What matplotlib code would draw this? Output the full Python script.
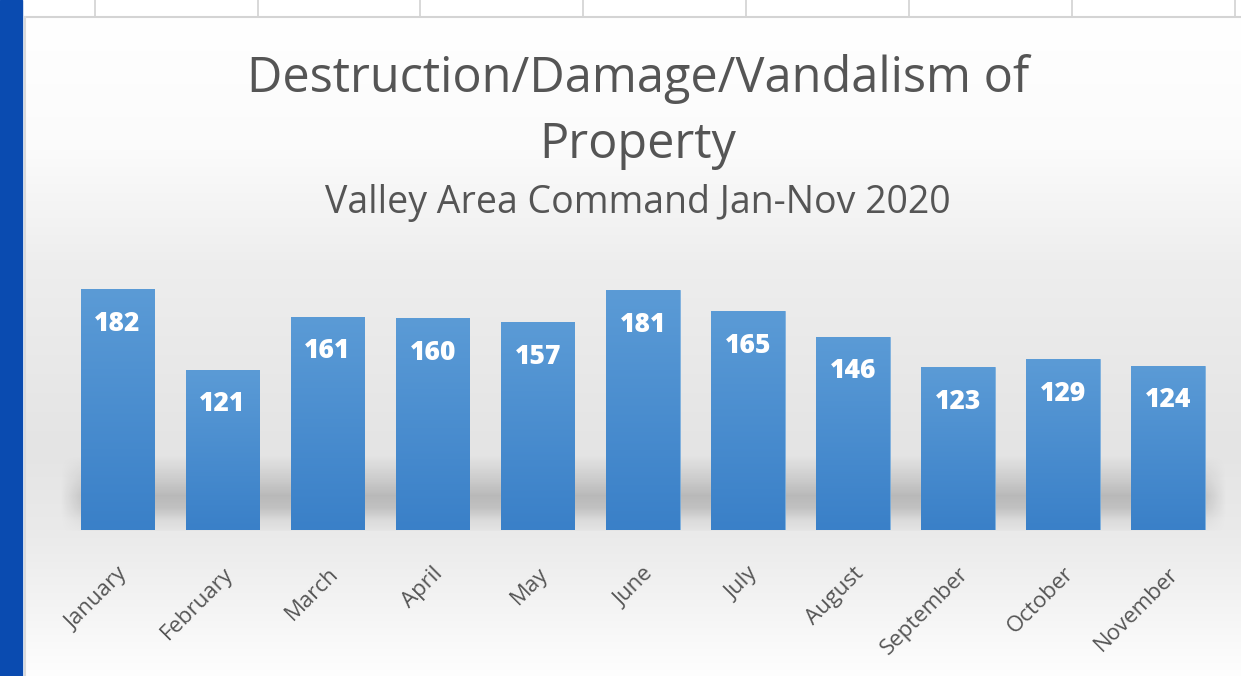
import matplotlib
matplotlib.use("Agg")
import matplotlib.pyplot as plt
from matplotlib.colors import LinearSegmentedColormap
import numpy as np

months = ["January", "February", "March", "April", "May", "June",
          "July", "August", "September", "October", "November"]
counts = [182, 121, 161, 160, 157, 181, 165, 146, 123, 129, 124]

title_lines = ["Destruction/Damage/Vandalism of", "Property"]
subtitle = "Valley Area Command Jan-Nov 2020"

W, H = 1241, 676
fig = plt.figure(figsize=(W / 100, H / 100), dpi=100)
fig.patch.set_facecolor("white")
plt.rcParams['font.family'] = ['Open Sans', 'DejaVu Sans']
text_col = "#555555"

# background layer in pixel coords
bg = fig.add_axes([0, 0, 1, 1], zorder=0)
bg.set_xlim(0, W)
bg.set_ylim(H, 0)
bg.axis("off")

# chart area gradient
ys = np.arange(17, H)
stops_y = [17, 150, 260, 450, 530, 600, H]
stops_v = [255, 251, 238, 228, 234, 243, 254]
grey = np.interp(ys, stops_y, stops_v) / 255.0
grad = np.repeat(grey[:, None], 2, axis=1)
bg.imshow(np.dstack([grad, grad, grad]), extent=(25, W, H, 17),
          aspect="auto", interpolation="bilinear", zorder=1)

# soft floor shadow behind bars
sy = np.arange(455, 531)
sa = np.interp(sy, [455, 480, 495, 507, 520, 530], [0.0, 0.12, 0.2, 0.17, 0.06, 0.02])
sx = np.arange(60, 1226)
fade = np.clip(np.minimum(sx - 60, 1226 - sx) / 30.0, 0, 1)
alpha = sa[:, None] * fade[None, :]
shadow = np.zeros((len(sy), len(sx), 4))
shadow[..., 3] = alpha
bg.imshow(shadow, extent=(60, 1226, 531, 455), aspect="auto",
          interpolation="bilinear", zorder=2)

# spreadsheet grid above the chart + window strip
for gx in [95, 258, 420, 583, 746, 909, 1072, 1235]:
    bg.plot([gx, gx], [0, 16], color="#d2d2d2", lw=1.2, zorder=3)
bg.plot([25, W], [16.5, 16.5], color="#d4d4d4", lw=1.5, zorder=3)
bg.plot([24.5, 24.5], [16.5, H], color="#dadada", lw=1.5, zorder=3)
bg.add_patch(plt.Rectangle((0, 0), 22, H, color="#0a4bb0", zorder=4))

# titles
fig.text(638 / W, 1 - 92 / H, title_lines[0], ha="center",
         va="baseline", fontsize=35, color=text_col)
fig.text(638 / W, 1 - 158 / H, title_lines[1], ha="center",
         va="baseline", fontsize=35, color=text_col)
fig.text(638 / W, 1 - 213 / H, subtitle, ha="center", va="baseline",
         fontsize=27, color=text_col)

# bar chart
ax = fig.add_axes([65 / W, 146 / H, 1155.5 / W, 265 / H], zorder=2)
ax.patch.set_alpha(0)
x = np.arange(len(months))
bars = ax.bar(x, counts, width=0.7, color="none", edgecolor="#6fa8dc", lw=0.6)

blues = LinearSegmentedColormap.from_list("b", ["#3a80c8", "#5b9bd6"])
g = np.linspace(1, 0, 100)[:, None]
for b in bars:
    im = ax.imshow(g, cmap=blues, aspect="auto", vmin=0, vmax=1,
                   extent=(b.get_x(), b.get_x() + b.get_width(), 0, b.get_height()),
                   zorder=1)
    im.set_clip_path(b)
ax.set_xlim(-0.5, len(months) - 0.5)
ax.set_ylim(0, 200)

for xi, v in zip(x, counts):
    ax.annotate(str(v), (xi, v), xytext=(0, -25), textcoords="offset points",
                ha="center", va="center", color="white", fontsize=19,
                fontweight="heavy", zorder=5)

for s in ax.spines.values():
    s.set_visible(False)
ax.set_yticks([])
ax.set_xticks(x)
ax.set_xticklabels(months, rotation=45, ha="right", rotation_mode="anchor",
                   fontsize=16, color=text_col)
ax.tick_params(axis="x", length=0, pad=24)

fig.savefig("out.png", dpi=100)
